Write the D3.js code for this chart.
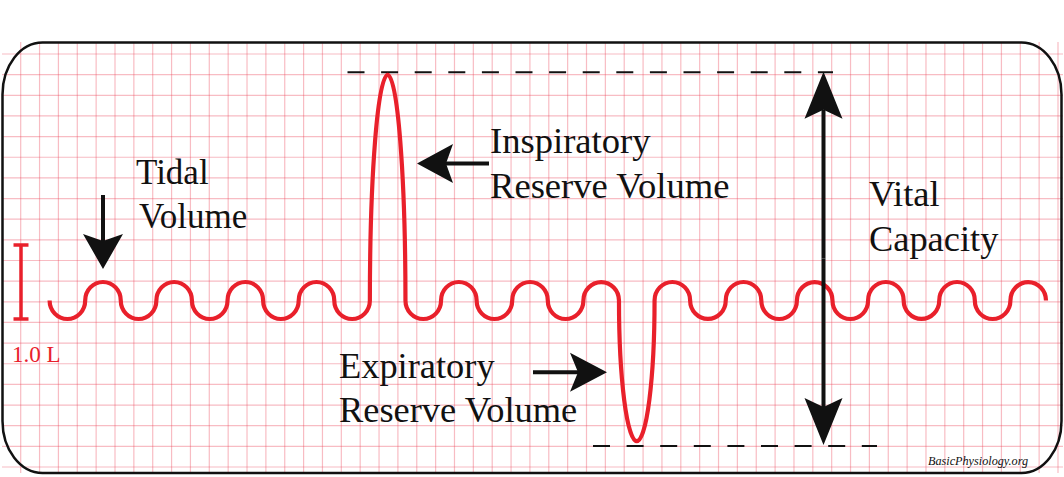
<!DOCTYPE html>
<html>
<head>
<meta charset="utf-8">
<script src="https://cdn.jsdelivr.net/npm/d3@7"></script>
<style>
  html, body { margin: 0; padding: 0; background: #ffffff; }
  svg { display: block; }
</style>
</head>
<body>
<svg id="chart" width="1064" height="477"></svg>
<script>
// ---------------- DATA ----------------
// Lung volume (L) at the extreme of each half breath cycle (dip / bump)
const halfCycleVolumes = [2.4, 2.9, 2.4, 2.9, 2.4, 2.9, 2.4, 2.9, 2.4, 5.7,
                          2.4, 2.9, 2.4, 2.9, 2.4, 2.9, 0.75, 2.9, 2.4, 2.9,
                          2.4, 2.9, 2.4, 2.9, 2.4, 2.9, 2.4, 2.9];
const midVolume = 2.65;          // resting midline between tidal dips and bumps
const frcVolume = 2.4;           // end-expiratory level
const scaleBarLitres = 1.0;
const scaleBarLabel = "1.0 L";
const irvPeakIndex = 9;
const ervTroughIndex = 16;
const labels = {
  tidal: ["Tidal", "Volume"],
  irv: ["Inspiratory", "Reserve Volume"],
  erv: ["Expiratory", "Reserve Volume"],
  vc: ["Vital", "Capacity"],
  credit: "BasicPhysiology.org"
};

// ---------------- LAYOUT ----------------
const W = 1064, H = 477;
const svg = d3.select("#chart");
const RED = "#e9202b";
const GRID = "rgba(236, 70, 88, 0.36)";
const SERIF = "'Liberation Serif', 'Times New Roman', Times, serif";

const x = d3.scaleLinear().domain([0, halfCycleVolumes.length]).range([49.6, 1046]);
const y = d3.scaleLinear().domain([0, 6]).range([496.6, 496.6 - 74 * 6]);

// ---------------- GRID ----------------
const gridL = 2, gridR = 1063, gridT = 42, gridB = 473;
const gx = d3.scaleLinear().domain([0, 1]).range([20.7, 20.7 + 18.86]);
const gy = d3.scaleLinear().domain([0, 1]).range([54, 54 + 20.65]);
const gridG = svg.append("g");
gridG.selectAll("line.v").data(d3.range(0, 56)).join("line")
  .attr("x1", d => gx(d)).attr("x2", d => gx(d))
  .attr("y1", gridT).attr("y2", gridB)
  .attr("stroke", GRID).attr("stroke-width", 1.2);
gridG.selectAll("line.h").data(d3.range(0, 21)).join("line")
  .attr("y1", d => gy(d)).attr("y2", d => gy(d))
  .attr("x1", gridL).attr("x2", gridR)
  .attr("stroke", GRID).attr("stroke-width", 1.2);

// ---------------- BORDER ----------------
const bx = 2.5, by = 42.5, bw = 1059, bh = 430.5, rx = 40, ry = 52;
svg.append("path")
  .attr("d", `M${bx + rx},${by} H${bx + bw - rx} A${rx},${ry} 0 0 1 ${bx + bw},${by + ry}` +
             ` V${by + bh - ry} A${rx},${ry} 0 0 1 ${bx + bw - rx},${by + bh}` +
             ` H${bx + rx} A${rx},${ry} 0 0 1 ${bx},${by + bh - ry}` +
             ` V${by + ry} A${rx},${ry} 0 0 1 ${bx + rx},${by} Z`)
  .attr("fill", "none").attr("stroke", "#111").attr("stroke-width", 2.5);

// ---------------- DASHED REFERENCE LINES ----------------
const peakY = y(halfCycleVolumes[irvPeakIndex]) - 2.5;
const troughY = y(halfCycleVolumes[ervTroughIndex]) + 5;
svg.append("line").attr("x1", 347.5).attr("x2", 833).attr("y1", peakY).attr("y2", peakY)
  .attr("stroke", "#111").attr("stroke-width", 2).attr("stroke-dasharray", "17 16.6");
svg.append("line").attr("x1", 593).attr("x2", 877).attr("y1", troughY).attr("y2", troughY)
  .attr("stroke", "#111").attr("stroke-width", 2).attr("stroke-dasharray", "17 16.6");

// ---------------- SPIROGRAM ----------------
const ym = y(midVolume);
let d = `M${x(0)},${ym}`;
halfCycleVolumes.forEach((v, i) => {
  const rX = (x(i + 1) - x(i)) / 2;
  const rY = Math.abs(y(v) - ym);
  const sweep = v > midVolume ? 1 : 0;
  d += ` A${rX},${rY} 0 0 ${sweep} ${x(i + 1)},${ym}`;
});
svg.append("path").attr("d", d)
  .attr("fill", "none").attr("stroke", RED).attr("stroke-width", 4.2);

// ---------------- SCALE BAR ----------------
const sbX = 21, sbTop = y(frcVolume + scaleBarLitres), sbBot = y(frcVolume);
svg.append("line").attr("x1", sbX).attr("x2", sbX).attr("y1", sbTop).attr("y2", sbBot)
  .attr("stroke", RED).attr("stroke-width", 3.5);
[sbTop, sbBot].forEach(v => svg.append("line")
  .attr("x1", sbX - 7.5).attr("x2", sbX + 7.5).attr("y1", v).attr("y2", v)
  .attr("stroke", RED).attr("stroke-width", 3.5));
svg.append("text").attr("x", 12).attr("y", 362).text(scaleBarLabel)
  .attr("font-family", SERIF).attr("font-size", 23).attr("fill", RED);

// ---------------- ARROWS ----------------
function arrow(x1, y1, x2, y2, headLen, headHalf, indent, lw) {
  const ang = Math.atan2(y2 - y1, x2 - x1);
  const ux = Math.cos(ang), uy = Math.sin(ang);
  const px = -uy, py = ux;
  const bxp = x2 - ux * headLen, byp = y2 - uy * headLen;
  const ix = x2 - ux * (headLen - indent), iy = y2 - uy * (headLen - indent);
  svg.append("line").attr("x1", x1).attr("y1", y1).attr("x2", ix).attr("y2", iy)
    .attr("stroke", "#111").attr("stroke-width", lw);
  svg.append("path")
    .attr("d", `M${x2},${y2} L${bxp + px * headHalf},${byp + py * headHalf} L${ix},${iy} L${bxp - px * headHalf},${byp - py * headHalf} Z`)
    .attr("fill", "#111");
}
// Tidal volume
arrow(103, 195, 103, 269, 35, 20, 7, 4);
// IRV
arrow(489, 163.5, 417, 163.5, 36, 19.5, 7, 4);
// ERV
arrow(533, 372.3, 607, 372.3, 37, 19.5, 8, 4);
// Vital capacity (double arrow)
const vcX = 823.5;
const vcTop = y(halfCycleVolumes[irvPeakIndex]) - 3, vcBot = y(halfCycleVolumes[ervTroughIndex]) + 4;
arrow(vcX, (vcTop + vcBot) / 2, vcX, vcTop, 47, 19, 9, 4);
arrow(vcX, (vcTop + vcBot) / 2, vcX, vcBot, 47, 19, 9, 4);

// ---------------- TEXT ----------------
function label(lines, xs, ys, size) {
  lines.forEach((t, i) => svg.append("text")
    .attr("x", xs[i]).attr("y", ys[i]).text(t)
    .attr("font-family", SERIF).attr("font-size", size).attr("fill", "#111"));
}
label(labels.tidal, [136, 139], [183.5, 227.5], 35);
label(labels.irv, [490, 490], [153, 197.5], 36.6);
label(labels.vc, [869, 869], [206, 250.5], 36.4);
label(labels.erv, [339, 339], [377.5, 421.7], 36.4);
svg.append("text").attr("x", 928).attr("y", 464.5).text(labels.credit)
  .attr("font-family", SERIF).attr("font-style", "italic").attr("font-size", 12.2).attr("fill", "#111");
</script>
</body>
</html>
